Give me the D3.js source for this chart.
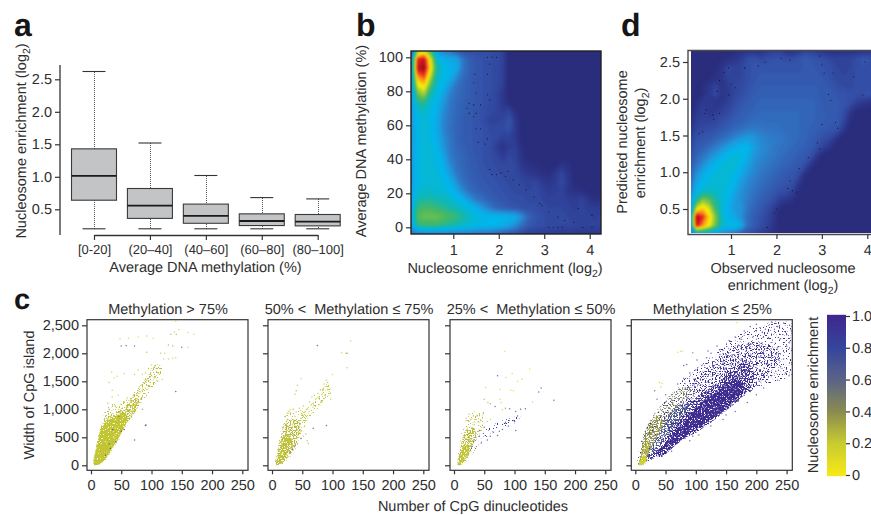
<!DOCTYPE html>
<html><head><meta charset="utf-8">
<script src="https://cdn.jsdelivr.net/npm/d3@7"></script>
<style>html,body{margin:0;padding:0;background:#fff}svg{display:block}text{font-family:"Liberation Sans",Arial,sans-serif;fill:#2e2e2e;white-space:pre;text-rendering:geometricPrecision}</style>
</head><body><svg id="c" width="871" height="515"></svg>
<script>
// ---------- DATA ----------
const boxCategories = ["[0-20]","(20–40]","(40–60]","(60–80]","(80–100]"];
const boxHigh = [2.62,1.52,1.02,0.68,0.66];
const boxQ3   = [1.43,0.82,0.58,0.43,0.42];
const boxMed  = [1.015,0.556,0.40,0.32,0.31];
const boxQ1   = [0.64,0.36,0.285,0.25,0.245];
const boxLow  = [0.2,0.2,0.2,0.2,0.2];
const boxTicks = [0.5,1,1.5,2,2.5];

const heatLevels = [0,6,12,22,30,40,48,56,66,74,84,92,100];
const heatColors = ["#2a2c7c","#2d3a90","#3450a8","#3076c4","#1f98dc","#00b6ec","#10b8b0","#4ab860","#a5cf3a","#fff200","#f7941d","#ed1c24","#8a0f14"];

// panel b: density, rows from y=104 down to y=-4, columns x=0.07..4.25
const heatB = [
[14,62,70,56,30,24,20,15,13,12,12,12,11,11,9],
[24,92,96,72,44,38,36,34,22,16,14,13,12,11,9],
[26,96,100,76,50,42,40,36,22,17,14,13,12,11,9],
[28,84,90,68,46,42,38,28,20,16,14,13,12,11,9],
[28,72,78,58,44,40,30,22,18,16,14,13,12,11,8],
[28,60,66,48,42,34,25,20,18,16,14,13,12,10,6],
[30,50,52,44,40,30,23,19,17,15,14,13,11,10,6,2],
[30,44,46,42,38,28,22,19,17,15,14,12,11,10,8,10,3],
[30,42,44,42,36,26,22,18,16,15,14,12,9,9,10,14,6],
[30,42,44,42,36,26,21,18,16,15,14,13,11,11,11,13,6],
[30,42,44,42,38,28,22,18,16,15,14,13,12,11,8,9,6],
[30,42,44,44,40,30,23,19,17,15,14,13,12,8,4,8,8,2],
[32,42,44,44,42,34,24,20,18,16,14,13,12,10,7,10,9,3],
[32,42,44,44,42,38,27,21,18,16,15,13,12,11,10,11,10,5,3,2,1,0,1,4,3],
[32,42,44,44,43,40,32,23,19,17,15,14,13,12,11,11,10,8,6,5,3,2,6,10,5],
[32,42,44,44,44,42,38,28,21,18,16,15,14,13,12,11,11,10,9,10,7,5,7,11,6,1],
[34,44,45,45,44,43,41,36,26,20,18,16,15,14,13,12,11,11,10,11,9,7,8,9,5,3,3,1],
[34,48,50,50,48,47,45,42,38,30,23,20,17,15,14,13,12,12,11,11,10,9,9,9,8,7,9,6,2,4],
[36,54,56,56,54,52,50,47,44,42,38,30,24,19,17,15,14,13,12,12,11,10,10,10,9,8,9,8,7,8],
[36,58,60,60,60,58,56,54,50,46,43,42,41,41,40,39,36,28,18,14,12,11,10,10,10,9,9,9,8,9],
[34,52,54,54,54,52,50,48,46,44,42,41,41,40,38,34,28,20,15,13,12,11,11,10,10,10,9,9,9,9],
[22,24,25,25,25,25,24,24,23,23,22,21,20,18,15,13,12,10,8,8,7,7,7,6,6,6,6,6,6,6]];
const dotsB = [[1.75,100],[1.85,100],[1.95,100],[1.8,96],[1.47,90],[1.75,90],[1.45,85],[1.5,79],[1.75,78],[1.35,73],[1.45,72],[1.6,72],[1.8,75],[1.3,70],[1.5,67],[1.35,67],[1.45,65],[1.5,58],[1.6,58],[1.55,50],[1.7,49],[1.75,52],[1.8,34],[1.85,31],[1.95,31],[2.05,32],[2.2,33],[2.15,30],[2.32,28],[2.45,25],[2.6,22],[2.78,18],[2.9,14],[2.95,13],[3.1,9],[3.3,6],[3.45,4],[3.65,3],[3.75,11],[3.1,0],[3.2,0],[3.3,0],[3.4,0],[3.85,0],[4.05,7],[4.05,0]];
const heatBTicksX = [1,2,3,4];
const heatBTicksY = [0,20,40,60,80,100];

// panel d: density, rows from y=2.66 down to y=0.156, columns x=0.1..4.2
const heatD = [
[0,0,0,0,0,0,0,2,3,4,4,3,6,8,8,4,3,6,9,8,6,4,3,3,4,4,4,5,5,4],
[0,0,0,0,0,2,3,5,8,12,13,11,12,13,13,12,12,14,16,14,13,12,10,9,9,10,12,14,13,12],
[0,0,0,0,2,5,11,9,10,12,14,14,14,14,14,14,14,14,15,15,14,13,12,10,9,10,12,13,12,12],
[0,0,0,1,3,6,10,9,10,12,14,15,15,15,15,15,15,15,15,15,15,14,12,10,10,11,12,12,12,12],
[0,0,2,5,9,5,8,10,11,13,15,16,16,16,16,16,16,16,16,16,16,15,14,12,11,11,12,12,12,11],
[0,0,3,7,11,5,7,10,12,14,16,17,17,17,17,17,17,17,17,17,16,15,15,14,14,12,12,13,14,10],
[0,3,7,6,5,6,9,12,14,16,17,18,18,18,18,18,18,18,18,18,17,15,15,15,14,12,8,6,4,2],
[0,6,8,6,7,9,11,14,16,17,18,19,19,19,19,19,19,19,18,18,17,16,15,15,12,6,1],
[2,8,9,9,10,12,14,16,17,19,20,20,20,20,20,20,20,19,18,18,17,16,15,15,10,2],
[5,10,11,12,13,15,17,19,21,23,24,23,22,22,21,20,20,19,18,17,16,15,14,13,6],
[8,13,14,15,17,20,23,27,30,32,30,27,25,24,23,22,20,19,18,16,14,12,10,4],
[10,15,17,20,24,28,33,37,40,40,33,28,26,24,22,21,19,18,17,15,12,8,4],
[12,18,22,27,32,38,42,43,43,38,30,27,25,23,21,19,18,16,15,12,5],
[14,22,28,35,40,43,44,44,41,34,28,25,23,21,19,18,16,15,12,5],
[17,28,36,41,43,44,44,42,36,30,26,23,21,19,17,15,14,12,4],
[20,34,41,43,44,44,43,40,32,27,24,21,19,17,15,14,13,6],
[24,40,44,46,45,44,42,36,29,25,22,19,17,15,13,12,9,2],
[30,50,62,58,50,44,40,32,28,24,20,17,15,12,8,6,4],
[30,70,78,70,54,44,38,31,30,22,18,15,12,8,2],
[30,100,92,78,62,46,38,36,28,20,16,13,10,6],
[30,96,84,74,60,46,42,44,36,20,16,12,9,5],
[22,34,36,34,30,27,24,20,15,12,10,8,6,3]];
const dotsD = [[0.45,1.85],[0.42,1.8],[0.6,1.78],[0.75,1.8],[0.62,1.72],[0.38,1.55],[0.3,1.53],[0.85,2.36],[0.95,2.42],[0.75,2.25],[1.0,2.2],[1.1,2.15],[1.3,2.42],[1.6,2.45],[1.75,2.5],[2.1,2.55],[2.3,2.53],[2.95,2.58],[3.0,2.46],[3.05,2.35],[3.25,2.35],[3.7,2.3],[3.95,2.5],[3.9,2.05],[3.15,2.06],[3.2,1.98],[3.3,1.68],[3.35,1.6],[3.0,1.65],[2.9,1.4],[2.95,1.32],[2.7,1.2],[2.5,1.05],[2.3,0.88],[2.25,0.78],[2.35,0.75],[2.45,0.73],[1.95,0.45],[2.0,0.5],[1.8,0.25],[0.95,2.05],[0.7,2.1]];
const heatDTicksX = [1,2,3,4];
const heatDTicksY = [0.5,1,1.5,2,2.5];

// panel c
const scatterTicksX = [0,50,100,150,200,250];
const scatterTicksY = [0,500,1000,1500,2000,2500];
const scatterTitles = ["Methylation > 75%","50% <  Methylation ≤ 75%","25% <  Methylation ≤ 50%","Methylation ≤ 25%"];
const scatterColorStops = [0,0.2,0.4,0.6,0.8,1];
const scatterColors = ["#f7e818","#c8cc30","#8b8c50","#5b6488","#35469c","#40288f"];
const barTicks = [0,0.2,0.4,0.6,0.8,1.0];

// dense regions read as [value, density class, polygon in data units]
const denseP1 = [
 [0.22,"soft",[[4,5],[12,500],[18,800],[28,1050],[45,1120],[70,1250],[80,1260],[78,1050],[62,760],[48,480],[34,230],[20,50],[10,5]]],
 [0.24,"sparse",[[58,1060],[74,1320],[92,1580],[106,1800],[118,1760],[112,1560],[96,1300],[80,1060],[70,940]]],
 [0.24,"mid",[[5,10],[11,460],[16,680],[26,860],[40,950],[60,1080],[76,1200],[74,980],[58,740],[47,500],[33,250],[20,70],[11,8]]],
 [0.22,"solid",[[6,12],[12,450],[18,660],[28,790],[40,860],[55,950],[60,830],[48,540],[34,290],[22,90],[12,12]]]];
const denseP2 = [
 [0.22,"soft",[[5,3],[10,350],[14,620],[22,900],[35,980],[52,1040],[58,850],[50,560],[38,250],[22,60],[12,3]]],
 [0.22,"sparse",[[46,850],[62,1060],[78,1250],[92,1480],[98,1350],[84,1120],[64,880],[50,740]]],
 [0.26,"mid",[[6,4],[11,320],[15,520],[21,720],[30,800],[42,820],[47,620],[36,290],[22,90],[12,4]]],
 [0.23,"dense",[[7,5],[12,240],[17,440],[24,560],[32,500],[27,240],[17,70],[11,5]]]];
const denseP3 = [
 [0.24,"soft",[[5,3],[10,400],[15,720],[26,900],[42,1000],[52,900],[44,560],[34,250],[20,50],[11,3]]],
 [0.86,"soft",[[25,160],[45,420],[70,640],[100,750],[110,880],[75,780],[48,600],[30,350]]],
 [0.25,"mid",[[6,4],[10,260],[14,480],[20,640],[32,680],[36,560],[29,300],[20,110],[11,4]]],
 [0.22,"dense",[[7,5],[10,150],[14,320],[20,400],[25,330],[20,140],[13,25]]]];
const denseP4 = [
 [0.95,"soft",[[5,5],[15,595],[48,1130],[75,1490],[120,1900],[170,2320],[225,2560],[262,2500],[262,1667],[213,1430],[175,1250],[147,952],[103,595],[59,387],[26,119],[13,5]]],
 [0.95,"sparse",[[60,900],[85,1400],[120,1750],[160,2100],[200,2200],[240,2000],[215,1560],[170,1150],[125,800],[85,520],[50,250]]],
 [0.97,"mid",[[26,100],[59,370],[103,600],[147,950],[178,1240],[195,1500],[190,1800],[165,1770],[140,1500],[110,1280],[85,1050],[60,750],[40,400],[22,140]]],
 [0.42,"sparse",[[9,300],[15,595],[30,900],[48,1130],[72,1380],[95,1350],[70,1000],[50,700],[30,370],[15,90]]],
 [0.98,"dense",[[40,140],[75,440],[110,720],[140,940],[165,1160],[180,1380],[168,1540],[135,1320],[105,1080],[80,800],[55,450],[35,220]]],
 [0.68,"mid",[[16,200],[32,560],[52,880],[72,1080],[92,1100],[78,860],[60,620],[42,370],[28,180],[16,60]]],
 [0.36,"mid",[[6,10],[11,340],[18,640],[30,840],[44,900],[44,680],[32,420],[22,210],[13,40]]],
 [0.26,"dense",[[6,8],[10,200],[16,400],[24,420],[20,200],[12,30]]],
 [0.16,"solid",[[5,5],[9,90],[14,170],[19,110],[14,25]]]];

// single points: [CpG count, width, enrichment]
const pointsP1 = [[48,2260,.2],[62,2270,.15],[58,2140,.7],[50,2130,.7],[72,2130,.7],[78,2290,.15],[92,2310,.2],[92,2020,.3],[103,2270,.15],[115,2000,.25],[122,2000,.2],[120,1900,.2],[128,1900,.2],[135,1910,.2],[140,1920,.2],[132,2340,.3],[138,2380,.2],[145,2420,.2],[140,2570,.1],[141,2340,.3],[128,2150,.3],[135,2130,.3],[150,2110,.7],[160,2110,.15],[160,2370,.15],[170,2340,.2],[140,1320,.9],[90,710,.95],[91,720,.95],[85,1000,.4],[34,1660,.2],[38,1560,.15],[55,1640,.2],[43,1590,.2],[30,1480,.25],[35,1340,.2],[45,1250,.2],[28,1110,.3],[35,1220,.2],[72,1620,.25],[78,1700,.2],[85,1620,.2],[90,1650,.25],[95,1730,.3],[100,1790,.2],[105,1770,.2],[108,1730,.3],[112,1650,.2],[118,1530,.2],[110,1500,.3],[104,1560,.25],[98,1580,.4],[92,1520,.3],[88,1470,.25],[84,1440,.2],[80,1400,.25],[95,1420,.3],[90,1380,.2],[85,1340,.25],[78,1330,.2],[72,1300,.25],[70,1240,.25],[75,1250,.3],[82,1180,.3],[78,1130,.4],[70,1140,.3],[65,1160,.25],[60,1200,.2],[55,1120,.25],[62,980,.3],[68,1060,.25],[72,950,.3],[60,800,.3],[55,640,.85],[72,450,.8],[50,610,.85],[40,420,.8],[32,300,.8],[24,180,.7],[28,960,.5],[25,890,.4],[22,820,.3],[30,1000,.3],[40,1060,.25],[52,950,.4],[46,870,.5],[36,640,.75],[30,380,.7],[48,650,.3],[58,880,.3],[66,880,.3],[74,1090,.25]];
const pointsP2 = [[75,2140,.85],[130,2220,.2],[115,2010,.15],[122,2000,.15],[124,2000,.5],[124,1740,.25],[100,1620,.15],[48,1550,.2],[42,1430,.25],[40,1330,.3],[38,1270,.25],[86,1450,.2],[90,1520,.25],[84,1360,.25],[92,1480,.3],[80,1350,.3],[76,1280,.25],[70,1250,.25],[66,1220,.2],[62,1130,.25],[72,1180,.2],[78,1200,.3],[68,1100,.3],[58,1010,.2],[55,960,.2],[50,900,.25],[48,840,.3],[45,800,.3],[28,960,.25],[30,990,.2],[26,930,.3],[35,1000,.3],[40,950,.25],[52,1060,.25],[45,1020,.2],[92,1360,.2],[96,1280,.3],[97,1180,.2],[88,1240,.25],[82,1140,.3],[90,710,.9],[68,660,.85],[48,480,.8],[38,350,.75],[34,290,.8],[30,240,.7],[58,440,.3],[60,390,.3],[52,520,.25],[56,560,.3],[46,640,.4],[22,870,.3],[26,820,.35],[18,680,.4],[46,750,.3]];
const pointsP3 = [[84,2030,.1],[72,1600,.85],[86,1570,.2],[96,1640,.15],[105,1500,.15],[112,1540,.2],[125,1720,.1],[52,1390,.2],[76,1360,.15],[94,1340,.15],[98,1330,.1],[140,1310,.85],[144,1380,.85],[165,1160,.85],[130,1130,.2],[50,1180,.3],[56,1120,.25],[60,1100,.4],[68,1050,.7],[78,1120,.2],[76,1180,.2],[80,990,.2],[85,1020,.4],[92,1010,.75],[102,960,.85],[110,1000,.85],[118,1010,.85],[105,880,.85],[102,620,.85],[100,780,.8],[90,700,.85],[85,760,.85],[80,640,.85],[75,610,.85],[72,530,.85],[65,590,.85],[60,520,.85],[55,450,.8],[45,400,.8],[42,620,.75],[50,680,.6],[40,780,.3],[35,820,.3],[32,880,.25],[28,820,.3],[25,780,.3],[38,880,.3],[44,800,.3],[48,920,.25],[55,780,.25],[60,820,.2],[36,500,.7],[32,430,.75],[30,340,.75],[42,520,.7],[25,910,.25],[20,840,.25]];
const pointsP4 = [[168,2550,.15],[190,2480,.9],[200,2520,.9],[225,2560,.9],[235,2480,.9],[245,2540,.9],[255,2500,.9],[215,2430,.85],[180,2400,.85],[210,2370,.85],[230,2390,.9],[250,2330,.85],[258,2400,.9],[70,2020,.15],[75,2030,.15],[78,2040,.1],[95,2010,.5],[165,2290,.85],[155,2230,.85],[175,2250,.9],[195,2300,.85],[220,2280,.85],[240,2260,.9],[255,2200,.85],[258,2050,.85],[250,2130,.85],[235,2100,.85],[205,2150,.85],[185,2160,.85],[165,2100,.85],[145,2050,.85],[125,2000,.85],[135,2130,.8],[120,2040,.85],[85,1800,.85],[80,1780,.8],[40,1480,.2],[44,1460,.15],[42,1400,.2],[32,1330,.85],[36,1180,.7],[50,1260,.8],[60,1260,.85],[70,1450,.85],[80,1550,.8],[90,1650,.85],[100,1700,.85],[110,1780,.85],[115,1620,.85],[130,1780,.8],[145,1850,.85],[160,1950,.85],[175,1900,.9],[190,1960,.85],[210,2000,.85],[225,1950,.85],[245,1900,.85],[258,1830,.85],[240,1760,.9],[220,1800,.85],[205,1700,.9],[195,1780,.85],[185,1680,.85],[170,1720,.85],[155,1640,.85],[140,1620,.85],[225,1600,.85],[215,1500,.85],[200,1480,.9],[190,1320,.85],[180,1250,.85],[170,1140,.9],[160,1080,.85],[150,1000,.85],[150,900,.85],[135,920,.85],[120,780,.85],[100,620,.85],[95,520,.85],[82,480,.85],[70,400,.85],[55,280,.85],[42,190,.8],[65,1010,.7],[55,950,.5],[62,1120,.6],[72,1190,.7],[85,1260,.75],[98,1330,.8],[108,1440,.85],[120,1500,.85],[128,1420,.9],[140,1480,.85],[150,1540,.85],[165,1540,.9],[178,1450,.9],[192,1560,.85],[162,1310,.9],[172,1390,.9],[148,1380,.9],[135,1300,.9],[120,1240,.9],[105,1170,.85],[92,1090,.85],[80,1030,.75],[68,930,.6],[48,800,.45],[38,650,.35],[30,600,.35],[25,500,.3],[20,430,.3],[15,280,.25],[45,960,.4],[52,1040,.45],[35,870,.3],[28,780,.3],[22,650,.25],[58,1080,.6],[75,1120,.7],[85,1180,.75],[170,1780,.85],[182,1600,.9],[210,1640,.85],[232,1680,.85],[248,1650,.85],[254,1600,.85],[225,1820,.85],[200,1880,.85],[178,1830,.85],[158,1790,.85],[148,1720,.85],[128,1600,.85],[112,1530,.85],[95,1430,.8],[82,1360,.8],[70,1280,.75],[60,1180,.7],[50,1130,.6],[42,1050,.5],[32,920,.4],[105,540,.85],[125,700,.85],[145,820,.85],[165,960,.85],[185,1120,.85],[200,1260,.85],[212,1380,.85],[235,1520,.85],[90,440,.85],[60,250,.8],[102,1880,.85],[118,1920,.85],[140,1980,.85]];

// ---------- DRAW ----------
const svg = d3.select("#c");
const fs = 14.5;
function txt(s, x, y, size, anchor="middle", rot=0, sub=null, after=""){
  const t = svg.append("text").attr("font-size",size).attr("text-anchor",anchor)
    .attr("transform",`translate(${x},${y})${rot?` rotate(${rot})`:""}`).text(s);
  if(sub){ t.append("tspan").attr("dy",size*0.25).attr("font-size",size*0.72).text(sub);
    if(after) t.append("tspan").attr("dy",-size*0.25).text(after); }
  return t;
}
const defs = svg.append("defs");
function grain(id, thresh, seed){
  const slope = 12, off = -slope*thresh;
  const f = defs.append("filter").attr("id",id).attr("filterUnits","userSpaceOnUse").attr("x",0).attr("y",300).attr("width",871).attr("height",215).attr("color-interpolation-filters","sRGB");
  f.append("feTurbulence").attr("type","fractalNoise").attr("baseFrequency",0.73).attr("numOctaves",1).attr("seed",seed).attr("result","n");
  f.append("feColorMatrix").attr("in","n").attr("type","matrix").attr("values",`0 0 0 0 0 0 0 0 0 0 0 0 0 0 0 ${slope} 0 0 0 ${off}`).attr("result","m");
  f.append("feComposite").attr("in","SourceGraphic").attr("in2","m").attr("operator","in").attr("result","c");
  f.append("feGaussianBlur").attr("in","c").attr("stdDeviation",0.42);
}
grain("soft",0.60,3); grain("sparse",0.55,5); grain("mid",0.48,11); grain("dense",0.42,7); grain("solid",0.34,9);
const blur = defs.append("filter").attr("id","smooth").attr("x","-5%").attr("y","-5%").attr("width","110%").attr("height","110%").attr("color-interpolation-filters","sRGB");
blur.append("feGaussianBlur").attr("stdDeviation",1.3);

// panel letters
[["a",14,36,32],["b",356,36,32],["c",14,308.5,29],["d",621,36,32]].forEach(d=>txt(d[0],d[1],d[2],d[3],"start").attr("font-weight","bold").style("fill","#161616"));

// ---------- panel a ----------
{
  const y = d3.scaleLinear().domain([0.5,2.5]).range([209.3,79.3]);
  const x = d3.scalePoint().domain(boxCategories).range([94,317.7]);
  const g = svg.append("g");
  const bw = 45, cap = 23;
  boxCategories.forEach((c,i)=>{
    const cx = x(c), wx = Math.round(cx)+0.5;
    g.append("line").attr("x1",wx).attr("x2",wx).attr("y1",Math.round(y(boxHigh[i]))).attr("y2",Math.round(y(boxLow[i]))).attr("stroke","#555").attr("stroke-dasharray","1,1").attr("shape-rendering","crispEdges");
    [boxHigh[i],boxLow[i]].forEach(v=>g.append("line").attr("x1",cx-cap/2).attr("x2",cx+cap/2).attr("y1",y(v)).attr("y2",y(v)).attr("stroke","#333").attr("stroke-width",1.1));
    g.append("rect").attr("x",cx-bw/2).attr("width",bw).attr("y",y(boxQ3[i])).attr("height",y(boxQ1[i])-y(boxQ3[i])).attr("fill","#c3c4c6").attr("stroke","#3a3a3a").attr("stroke-width",1.1);
    g.append("line").attr("x1",cx-bw/2).attr("x2",cx+bw/2).attr("y1",y(boxMed[i])).attr("y2",y(boxMed[i])).attr("stroke","#1a1a1a").attr("stroke-width",1.8);
  });
  const ya = svg.append("g").attr("transform","translate(60,0)").call(d3.axisLeft(y).tickValues(boxTicks).tickFormat(d3.format(".1f")).tickSize(5).tickSizeOuter(0));
  ya.select(".domain").remove();
  ya.append("line").attr("y1",65).attr("y2",235).attr("stroke","#333").attr("stroke-width",1.3);
  ya.selectAll(".tick line").attr("stroke","#333").attr("stroke-width",1.2);
  ya.selectAll("text").attr("font-size",fs).attr("font-family",null).attr("x",-8);
  const xa = svg.append("g").attr("transform","translate(0,235)").call(d3.axisBottom(x).tickSize(5).tickSizeOuter(0));
  xa.select(".domain").attr("stroke","#333").attr("stroke-width",1.3);
  xa.selectAll(".tick line").attr("stroke","#333").attr("stroke-width",1.2);
  xa.selectAll("text").attr("font-size",13).attr("font-family",null).attr("y",10);
  txt("Average DNA methylation (%)",205.5,272,fs);
  txt("Nucleosome enrichment (log",26,141,fs,"middle",-90,"2",")");
}

// ---------- heat maps ----------
function heat(rows, x, y, xdom, ydom, clip, id){
  const n = 30, m = rows.length;
  const flat = []; rows.forEach(r=>{ for(let i=0;i<n;i++) flat.push(i<r.length?r[i]:0); });
  const color = d3.scaleLinear().domain(heatLevels).range(heatColors).interpolate(d3.interpolateRgb);
  const gx = d3.scaleLinear().domain([0.5,n-0.5]).range(xdom);
  const gy = d3.scaleLinear().domain([0.5,m-0.5]).range(ydom);
  const path = d3.geoPath(d3.geoTransform({point(a,b){ this.stream.point(x(gx(a)),y(gy(b))); }}));
  defs.append("clipPath").attr("id",id).append("rect").attr("x",clip[0]).attr("y",clip[1]).attr("width",clip[2]).attr("height",clip[3]);
  const outer = svg.append("g").attr("clip-path",`url(#${id})`);
  outer.append("rect").attr("x",clip[0]).attr("y",clip[1]).attr("width",clip[2]).attr("height",clip[3]).attr("fill",heatColors[0]);
  const g = outer.append("g").attr("filter","url(#smooth)");
  const cs = d3.contours().size([n,m]).thresholds(d3.range(1,101,1.5))(flat);
  g.selectAll("path").data(cs).join("path").attr("d",path).attr("fill",d=>color(d.value));
  return outer;
}
function axisStyle(a, size){
  a.select(".domain").remove();
  a.selectAll(".tick line").attr("stroke","#333").attr("stroke-width",1.2);
  a.selectAll("text").attr("font-size",size).attr("font-family",null);
}
// panel b
{
  const x = d3.scaleLinear().domain([1,4]).range([453.3,589.7]);
  const y = d3.scaleLinear().domain([0,100]).range([227.3,57.3]);
  const g = heat(heatB,x,y,[0.07,4.25],[104,-4],[411,51,190,183],"clipB");
  g.selectAll(".d").data(dotsB).join("circle").attr("class","d").attr("cx",d=>x(d[0])).attr("cy",d=>y(d[1])).attr("r",0.55).attr("fill","#111");
  svg.append("rect").attr("x",411).attr("y",51).attr("width",190).attr("height",183).attr("fill","none").attr("stroke","#222").attr("stroke-width",1.4);
  const xa = svg.append("g").attr("transform","translate(0,234)").call(d3.axisBottom(x).tickValues(heatBTicksX).tickFormat(d3.format("d")).tickSize(5));
  axisStyle(xa,fs); xa.selectAll("text").attr("y",11);
  const ya = svg.append("g").attr("transform","translate(411,0)").call(d3.axisLeft(y).tickValues(heatBTicksY).tickSize(5));
  axisStyle(ya,fs); ya.selectAll("text").attr("x",-8);
  txt("Nucleosome enrichment (log",505,273,fs,"middle",0,"2",")");
  txt("Average DNA methylation (%)",366,141,fs,"middle",-90);
}
// panel d
{
  const x = d3.scaleLinear().domain([1,4]).range([731,867.3]);
  const y = d3.scaleLinear().domain([0.5,2.5]).range([209,62]);
  const g = heat(heatD,x,y,[0.1,4.2],[2.66,0.156],[691,51,180,182],"clipD");
  g.selectAll(".d").data(dotsD).join("circle").attr("class","d").attr("cx",d=>x(d[0])).attr("cy",d=>y(d[1])).attr("r",0.55).attr("fill","#111");
  svg.append("path").attr("d","M871,50.5H688V234.5H871").attr("fill","none").attr("stroke","#4a4a4a").attr("stroke-width",1.4);
  const xa = svg.append("g").attr("transform","translate(0,234)").call(d3.axisBottom(x).tickValues(heatDTicksX).tickFormat(d3.format("d")).tickSize(5));
  axisStyle(xa,fs); xa.selectAll("text").attr("y",11);
  const ya = svg.append("g").attr("transform","translate(688,0)").call(d3.axisLeft(y).tickValues(heatDTicksY).tickFormat(d3.format(".1f")).tickSize(5));
  axisStyle(ya,fs); ya.selectAll("text").attr("x",-8);
  txt("Observed nucleosome",783,273,fs);
  txt("enrichment (log",783,290,fs,"middle",0,"2",")");
  txt("Predicted nucleosome",627,142,fs,"middle",-90);
  txt("enrichment (log",645,143,fs,"middle",-90,"2",")");
}

// ---------- panel c ----------
const valueColor = d3.scaleLinear().domain(scatterColorStops).range(scatterColors).interpolate(d3.interpolateRgb);
const panels = [
 {x0:87,dense:denseP1,pts:pointsP1},{x0:268,dense:denseP2,pts:pointsP2},
 {x0:450,dense:denseP3,pts:pointsP3},{x0:631.3,dense:denseP4,pts:pointsP4}];
const y = d3.scaleLinear().domain([0,2500]).range([465.3,325.3]);
panels.forEach((p,i)=>{
  const x = d3.scaleLinear().domain([0,250]).range([p.x0+4,p.x0+155.3]);
  const W = 161, top = 319.7, bot = 470.3;
  const id = "clipP"+i;
  defs.append("clipPath").attr("id",id).append("rect").attr("x",p.x0).attr("y",top).attr("width",W).attr("height",bot-top);
  const g = svg.append("g").attr("clip-path",`url(#${id})`);
  const line = d3.line().x(d=>x(d[0])).y(d=>y(d[1])).curve(d3.curveCatmullRomClosed.alpha(0.5));
  p.dense.forEach(d=>g.append("path").attr("d",line(d[2])).attr("fill",valueColor(d[0])).attr("filter",`url(#${d[1]})`));
  g.selectAll("circle").data(p.pts).join("circle").attr("cx",d=>x(d[0])).attr("cy",d=>y(d[1])).attr("r",0.75).attr("fill",d=>valueColor(d[2])).attr("opacity",0.75);
  svg.append("rect").attr("x",p.x0).attr("y",top).attr("width",W).attr("height",bot-top).attr("fill","none").attr("stroke","#333").attr("stroke-width",1.2);
  const xa = svg.append("g").attr("transform",`translate(0,${bot})`).call(d3.axisBottom(x).tickValues(scatterTicksX).tickSize(4));
  axisStyle(xa,fs); xa.selectAll("text").attr("y",9);
  const ya = svg.append("g").attr("transform",`translate(${p.x0},0)`).call(d3.axisLeft(y).tickValues(scatterTicksY).tickFormat(i===0?d3.format(","):"").tickSize(5));
  axisStyle(ya,fs); ya.selectAll("text").attr("x",-8);
  txt(scatterTitles[i],p.x0+81,314,fs);
});
txt("Number of CpG dinucleotides",473,511,fs);
txt("Width of CpG island",34,395,fs,"middle",-90);
// colour bar
{
  const b = d3.scaleLinear().domain([0,1]).range([475,316]);
  const bar = svg.append("g");
  bar.selectAll("rect").data(d3.range(0,1.005,0.01)).join("rect").attr("x",827).attr("width",19).attr("y",d=>b(d)-1.2).attr("height",2.4).attr("fill",d=>valueColor(d));
  const a = svg.append("g").attr("transform","translate(846,0)").call(d3.axisRight(b).tickValues(barTicks).tickFormat(d=>d===0?"0":d3.format(".1f")(d)).tickSize(4));
  axisStyle(a,fs); a.selectAll("text").attr("x",6);
  txt("Nucleosome enrichment",818,395,fs,"middle",-90);
}
</script></body></html>
